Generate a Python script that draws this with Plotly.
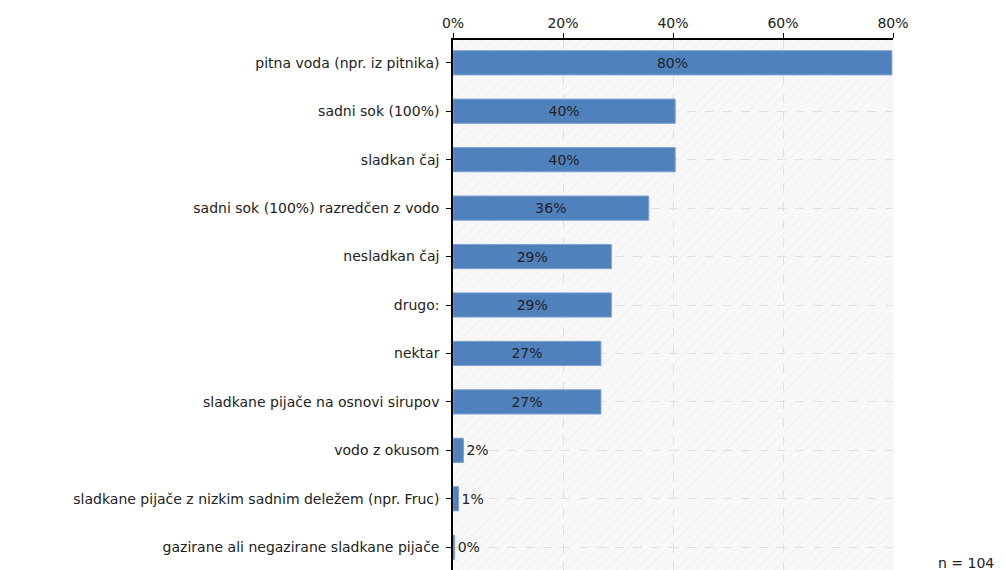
import plotly.graph_objects as go

categories = [
    "pitna voda (npr. iz pitnika)",
    "sadni sok (100%)",
    "sladkan čaj",
    "sadni sok (100%) razredčen z vodo",
    "nesladkan čaj",
    "drugo:",
    "nektar",
    "sladkane pijače na osnovi sirupov",
    "vodo z okusom",
    "sladkane pijače z nizkim sadnim deležem (npr. Fruc)",
    "gazirane ali negazirane sladkane pijače",
]
values = [79.8, 40.4, 40.4, 35.6, 28.8, 28.8, 26.9, 26.9, 1.9, 1.0, 0.3]
labels = ["80%", "40%", "40%", "36%", "29%", "29%", "27%", "27%", "2%", "1%", "0%"]
tick_vals = [0, 20, 40, 60, 80]
tick_text = ["0%", "20%", "40%", "60%", "80%"]
n_text = "n = 104"

x_max = tick_vals[-1]

fig = go.Figure()

# hatched background of the plot area
fig.add_trace(go.Bar(
    y=categories, x=[x_max] * len(categories), orientation="h", width=1,
    marker=dict(color="rgba(0,0,0,0)", line_width=0,
                pattern=dict(shape="/", fgcolor="#e4e4e4", size=7, solidity=0.14,
                             fillmode="overlay")),
    hoverinfo="skip", showlegend=False,
))

fig.add_trace(go.Bar(
    y=categories, x=values, orientation="h", width=0.5,
    marker=dict(color="#4f81bd", line=dict(color="#7ea3d3", width=1)),
    text=labels, textposition="auto", insidetextanchor="middle",
    textfont=dict(color="#222222", size=14), cliponaxis=False,
    showlegend=False,
))

# page body has an 8px margin, so the figure is 8px smaller than the window
fig.update_layout(
    width=998, height=562,
    margin=dict(l=445, r=113, t=32, b=0),
    barmode="overlay",
    paper_bgcolor="white", plot_bgcolor="#f8f8f8",
    font=dict(family="DejaVu Sans", size=14, color="#222222"),
)

fig.update_xaxes(
    side="top", range=[0, x_max], tickvals=tick_vals, ticktext=tick_text,
    showline=True, linecolor="black", linewidth=1.5,
    ticks="outside", ticklen=5, tickcolor="black",
    showgrid=True, gridcolor="#e0e0e0", griddash="dash", zeroline=False,
    fixedrange=True,
)
fig.update_yaxes(
    categoryorder="array", categoryarray=categories,
    range=[len(categories) - 0.53, -0.47],
    showline=True, linecolor="black", linewidth=1.5,
    ticks="outside", ticklen=5, tickcolor="black", ticklabelstandoff=4,
    showgrid=True, gridcolor="#e0e0e0", griddash="dash",
    fixedrange=True,
)

fig.add_annotation(
    text=n_text, xref="paper", yref="paper", x=1.235, y=-0.005,
    xanchor="right", yanchor="bottom", showarrow=False,
    font=dict(size=14, color="#222222"),
)

fig.write_html("out.html")
